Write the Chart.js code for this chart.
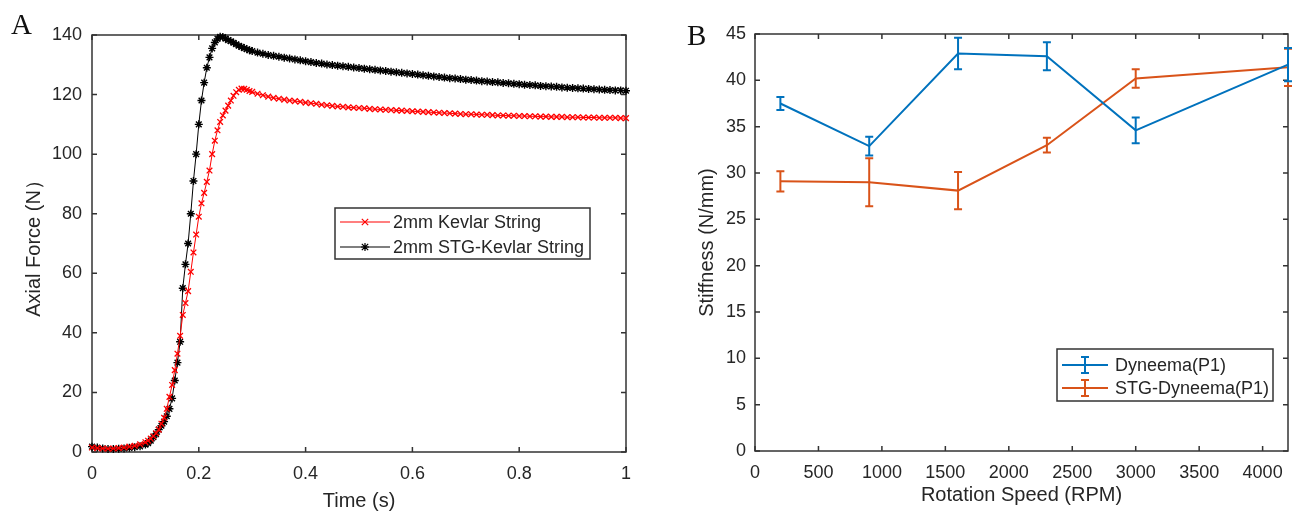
<!DOCTYPE html>
<html>
<head>
<meta charset="utf-8">
<script src="https://cdn.jsdelivr.net/npm/chart.js@4/dist/chart.umd.min.js"></script>
<style>
  body { margin: 0; background: #fff; }
  #wrap { position: relative; width: 1298px; height: 513px; }
  canvas { position: absolute; top: 0; }
  #chartA { left: 0; }
  #chartB { left: 650px; }
</style>
</head>
<body>
<div id="wrap">
  <canvas id="chartA" width="650" height="513"></canvas>
  <canvas id="chartB" width="648" height="513"></canvas>
</div>
<script>
// ---- Panel A: axial force vs time ----
const timeS = [
  0, 0.01, 0.02, 0.03, 0.04, 0.05, 0.06, 0.07, 0.08, 0.09, 0.10,
  0.105, 0.11, 0.115, 0.12, 0.125, 0.13, 0.135, 0.14, 0.145, 0.15,
  0.155, 0.16, 0.165, 0.17, 0.175, 0.18, 0.185, 0.19, 0.195, 0.20,
  0.205, 0.21, 0.215, 0.22, 0.225, 0.23, 0.235, 0.24, 0.245, 0.25,
  0.255, 0.26, 0.265, 0.27, 0.275, 0.28, 0.285, 0.29, 0.295, 0.30,
  0.31, 0.32, 0.33, 0.34, 0.35, 0.36, 0.37, 0.38, 0.39, 0.40,
  0.41, 0.42, 0.43, 0.44, 0.45, 0.46, 0.47, 0.48, 0.49, 0.50,
  0.51, 0.52, 0.53, 0.54, 0.55, 0.56, 0.57, 0.58, 0.59, 0.60,
  0.61, 0.62, 0.63, 0.64, 0.65, 0.66, 0.67, 0.68, 0.69, 0.70,
  0.71, 0.72, 0.73, 0.74, 0.75, 0.76, 0.77, 0.78, 0.79, 0.80,
  0.81, 0.82, 0.83, 0.84, 0.85, 0.86, 0.87, 0.88, 0.89, 0.90,
  0.91, 0.92, 0.93, 0.94, 0.95, 0.96, 0.97, 0.98, 0.99, 1.00
];
const kevlarForce = [
  1.5, 1.3, 1.2, 1.1, 1.2, 1.3, 1.5, 1.8, 2.1, 2.6, 3.3,
  3.8, 4.5, 5.3, 6.3, 7.5, 9.5, 11.5, 14.5, 18.5, 22.5,
  27.5, 33.0, 39.0, 46.0, 50.0, 54.0, 60.5, 67.0, 73.0, 79.0,
  83.5, 87.0, 90.7, 94.5, 100.0, 104.5, 108.0, 110.8, 113.0, 114.6,
  116.3, 118.0, 119.6, 120.8, 121.6, 122.0, 121.9, 121.6, 121.2, 120.9,
  120.3, 119.8, 119.3, 118.9, 118.6, 118.3, 118.0, 117.8, 117.6, 117.3,
  117.1, 116.9, 116.6, 116.4, 116.2, 116.0, 115.9, 115.7, 115.6, 115.5,
  115.4, 115.2, 115.1, 115.0, 114.9, 114.8, 114.7, 114.6, 114.5, 114.4,
  114.3, 114.2, 114.1, 114.0, 113.9, 113.8, 113.7, 113.6, 113.5, 113.4,
  113.4, 113.3, 113.2, 113.2, 113.1, 113.0, 113.0, 112.9, 112.9, 112.8,
  112.8, 112.7, 112.7, 112.6, 112.6, 112.5, 112.5, 112.5, 112.4, 112.4,
  112.4, 112.3, 112.3, 112.3, 112.2, 112.2, 112.2, 112.2, 112.1, 112.1
];
const stgKevlarForce = [
  1.8, 1.5, 1.2, 1.0, 1.0, 1.1, 1.2, 1.4, 1.6, 1.9, 2.5,
  3.0, 3.8, 5.0, 6.0, 7.5, 8.8, 10.2, 12.0, 14.5, 18.0,
  24.0, 30.0, 37.0, 55.0, 63.0, 70.0, 80.0, 91.0, 100.0, 110.0,
  118.0, 124.0, 129.0, 132.5, 135.5, 137.5, 138.7, 139.4, 139.3, 138.8,
  138.3, 137.9, 137.4, 136.9, 136.4, 136.0, 135.6, 135.2, 134.9, 134.6,
  134.1, 133.7, 133.3, 133.0, 132.7, 132.4, 132.1, 131.8, 131.5, 131.2,
  130.9, 130.6, 130.4, 130.1, 129.9, 129.7, 129.5, 129.3, 129.1, 128.9,
  128.7, 128.5, 128.3, 128.1, 127.9, 127.7, 127.5, 127.3, 127.1, 126.9,
  126.7, 126.5, 126.3, 126.1, 125.9, 125.7, 125.5, 125.4, 125.2, 125.0,
  124.9, 124.7, 124.5, 124.4, 124.2, 124.1, 123.9, 123.8, 123.6, 123.5,
  123.3, 123.2, 123.1, 122.9, 122.8, 122.7, 122.6, 122.4, 122.3, 122.2,
  122.1, 122.0, 121.9, 121.8, 121.7, 121.6, 121.5, 121.4, 121.4, 121.3
];

// ---- Panel B: stiffness vs rotation speed ----
const rpm = [200, 900, 1600, 2300, 3000, 4200];
const dyneemaStiff = [37.5, 32.9, 42.9, 42.6, 34.6, 41.7];
const dyneemaErr = [0.7, 1.0, 1.7, 1.5, 1.4, 1.8];
const stgDyneemaStiff = [29.1, 29.0, 28.1, 33.0, 40.2, 41.4];
const stgDyneemaErr = [1.1, 2.6, 2.0, 0.8, 1.0, 2.0];
const rpmTicks = [0, 500, 1000, 1500, 2000, 2500, 3000, 3500, 4000];

const FONT = 'Liberation Sans, Arial, sans-serif';
const INK = '#262626';
Chart.defaults.font.family = FONT;
Chart.defaults.font.size = 18;
Chart.defaults.color = INK;

// box around the axes with inward ticks on every side
const frameTicks = {
  id: 'frameTicks',
  beforeDatasetsDraw(chart) {
    const { ctx, chartArea: a, scales: { x, y } } = chart;
    ctx.save();
    ctx.strokeStyle = '#333';
    ctx.lineWidth = 1.5;
    ctx.beginPath();
    x.ticks.forEach(t => {
      const p = x.getPixelForValue(t.value);
      ctx.moveTo(p, a.bottom); ctx.lineTo(p, a.bottom - 5);
      ctx.moveTo(p, a.top); ctx.lineTo(p, a.top + 5);
    });
    y.ticks.forEach(t => {
      const p = y.getPixelForValue(t.value);
      ctx.moveTo(a.left, p); ctx.lineTo(a.left + 5, p);
      ctx.moveTo(a.right, p); ctx.lineTo(a.right - 5, p);
    });
    ctx.stroke();
    ctx.strokeRect(a.left, a.top, a.right - a.left, a.bottom - a.top);
    ctx.restore();
  }
};

// big serif panel letter
const panelLabel = {
  id: 'panelLabel',
  afterDraw(chart, args, opts) {
    const ctx = chart.ctx;
    ctx.save();
    ctx.font = '29px "Liberation Serif", "Times New Roman", serif';
    ctx.fillStyle = '#111';
    ctx.textBaseline = 'alphabetic';
    ctx.fillText(opts.text, opts.x, opts.y);
    ctx.restore();
  }
};

function drawMarker(ctx, style, cx, cy, r) {
  ctx.beginPath();
  if (style === 'crossRot' || style === 'star') {
    const d = r * 0.8;
    ctx.moveTo(cx - d, cy - d); ctx.lineTo(cx + d, cy + d);
    ctx.moveTo(cx - d, cy + d); ctx.lineTo(cx + d, cy - d);
  }
  if (style === 'star') {
    ctx.moveTo(cx - r, cy); ctx.lineTo(cx + r, cy);
    ctx.moveTo(cx, cy - r); ctx.lineTo(cx, cy + r);
  }
  ctx.stroke();
}

const legendA = {
  id: 'legendA',
  afterDraw(chart) {
    const ctx = chart.ctx;
    const box = { l: 335, t: 208, r: 590, b: 259 };
    ctx.save();
    ctx.fillStyle = '#fff';
    ctx.fillRect(box.l, box.t, box.r - box.l, box.b - box.t);
    ctx.strokeStyle = '#333';
    ctx.lineWidth = 1.5;
    ctx.strokeRect(box.l, box.t, box.r - box.l, box.b - box.t);
    ctx.font = '18px ' + FONT;
    ctx.textBaseline = 'middle';
    chart.data.datasets.forEach((ds, i) => {
      const yy = 222 + i * 25;
      ctx.strokeStyle = ds.borderColor;
      ctx.lineWidth = 1.2;
      ctx.beginPath(); ctx.moveTo(340, yy); ctx.lineTo(390, yy); ctx.stroke();
      drawMarker(ctx, ds.pointStyle, 365, yy, 4);
      ctx.fillStyle = INK;
      ctx.fillText(ds.label, 393, yy + 1);
    });
    ctx.restore();
  }
};

// vertical error bars with caps, drawn with each dataset
const errorBars = {
  id: 'errorBars',
  afterDatasetDraw(chart, args) {
    const ds = chart.data.datasets[args.index];
    if (!ds.errors) return;
    const { ctx, scales: { x, y } } = chart;
    ctx.save();
    ctx.strokeStyle = ds.borderColor;
    ctx.lineWidth = 2;
    ctx.beginPath();
    ds.data.forEach((p, i) => {
      const px = x.getPixelForValue(p.x);
      const top = y.getPixelForValue(p.y + ds.errors[i]);
      const bot = y.getPixelForValue(p.y - ds.errors[i]);
      ctx.moveTo(px, top); ctx.lineTo(px, bot);
      ctx.moveTo(px - 4, top); ctx.lineTo(px + 4, top);
      ctx.moveTo(px - 4, bot); ctx.lineTo(px + 4, bot);
    });
    ctx.stroke();
    ctx.restore();
  }
};

const legendB = {
  id: 'legendB',
  afterDraw(chart) {
    const ctx = chart.ctx;
    const box = { l: 407, t: 349, r: 623, b: 401 };
    ctx.save();
    ctx.fillStyle = '#fff';
    ctx.fillRect(box.l, box.t, box.r - box.l, box.b - box.t);
    ctx.strokeStyle = '#333';
    ctx.lineWidth = 1.5;
    ctx.strokeRect(box.l, box.t, box.r - box.l, box.b - box.t);
    ctx.font = '18px ' + FONT;
    ctx.textBaseline = 'middle';
    chart.data.datasets.forEach((ds, i) => {
      const yy = 365 + i * 23;
      ctx.strokeStyle = ds.borderColor;
      ctx.lineWidth = 2;
      ctx.beginPath();
      ctx.moveTo(412, yy); ctx.lineTo(458, yy);
      ctx.moveTo(435, yy - 8); ctx.lineTo(435, yy + 8);
      ctx.moveTo(431, yy - 8); ctx.lineTo(439, yy - 8);
      ctx.moveTo(431, yy + 8); ctx.lineTo(439, yy + 8);
      ctx.stroke();
      ctx.fillStyle = INK;
      ctx.fillText(ds.label, 465, yy + 1);
    });
    ctx.restore();
  }
};

const toXY = (xs, ys) => xs.map((v, i) => ({ x: v, y: ys[i] }));
const noGrid = { display: false, drawTicks: false };

new Chart(document.getElementById('chartA'), {
  type: 'line',
  data: {
    datasets: [
      {
        label: '2mm Kevlar String',
        data: toXY(timeS, kevlarForce),
        borderColor: '#ff0000',
        backgroundColor: '#ff0000',
        borderWidth: 1,
        pointStyle: 'crossRot',
        pointRadius: 4,
        pointBorderWidth: 1.3,
        clip: false
      },
      {
        label: '2mm STG-Kevlar String',
        data: toXY(timeS, stgKevlarForce),
        borderColor: '#000000',
        backgroundColor: '#000000',
        borderWidth: 1,
        pointStyle: 'star',
        pointRadius: 4,
        pointBorderWidth: 1.4,
        clip: false
      }
    ]
  },
  options: {
    responsive: false,
    animation: false,
    devicePixelRatio: 1,
    layout: { padding: { left: 0, top: 35, right: 24, bottom: 0 } },
    plugins: {
      legend: { display: false },
      tooltip: { enabled: false },
      panelLabel: { text: 'A', x: 11, y: 34 }
    },
    scales: {
      x: {
        type: 'linear', min: 0, max: 1,
        grid: noGrid, border: { display: false },
        ticks: { stepSize: 0.2, padding: 11, maxRotation: 0,
                 callback: v => String(Math.round(v * 10) / 10) },
        title: { display: true, text: 'Time (s)', font: { size: 20 },
                 padding: { top: 0, bottom: 0 } },
        afterFit: s => { s.height = 61; }
      },
      y: {
        min: 0, max: 140,
        grid: noGrid, border: { display: false },
        ticks: { stepSize: 20, padding: 10 },
        title: { display: true, text: 'Axial Force (N）', font: { size: 20 },
                 padding: { top: 22, bottom: 0 } },
        afterFit: s => { s.width = 92; }
      }
    }
  },
  plugins: [frameTicks, panelLabel, legendA]
});

new Chart(document.getElementById('chartB'), {
  type: 'line',
  data: {
    datasets: [
      {
        label: 'Dyneema(P1)',
        data: toXY(rpm, dyneemaStiff),
        errors: dyneemaErr,
        borderColor: '#0072bd',
        borderWidth: 2,
        pointRadius: 0,
        clip: false
      },
      {
        label: 'STG-Dyneema(P1)',
        data: toXY(rpm, stgDyneemaStiff),
        errors: stgDyneemaErr,
        borderColor: '#d95319',
        borderWidth: 2,
        pointRadius: 0,
        clip: false
      }
    ]
  },
  options: {
    responsive: false,
    animation: false,
    devicePixelRatio: 1,
    layout: { padding: { left: 0, top: 34, right: 10, bottom: 0 } },
    plugins: {
      legend: { display: false },
      tooltip: { enabled: false },
      panelLabel: { text: 'B', x: 37, y: 45 }
    },
    scales: {
      x: {
        type: 'linear', min: 0, max: 4200,
        grid: noGrid, border: { display: false },
        afterBuildTicks: s => { s.ticks = rpmTicks.map(v => ({ value: v })); },
        ticks: { padding: 11, maxRotation: 0, autoSkip: false,
                 callback: v => String(v) },
        title: { display: true, text: 'Rotation Speed (RPM)', font: { size: 20 },
                 padding: { top: 0, bottom: 6 } },
        afterFit: s => { s.height = 62; }
      },
      y: {
        min: 0, max: 45,
        grid: noGrid, border: { display: false },
        ticks: { stepSize: 5, padding: 9 },
        title: { display: true, text: 'Stiffness (N/mm)', font: { size: 20 },
                 padding: { top: 45, bottom: 0 } },
        afterFit: s => { s.width = 105; }
      }
    }
  },
  plugins: [frameTicks, errorBars, panelLabel, legendB]
});
</script>
</body>
</html>
